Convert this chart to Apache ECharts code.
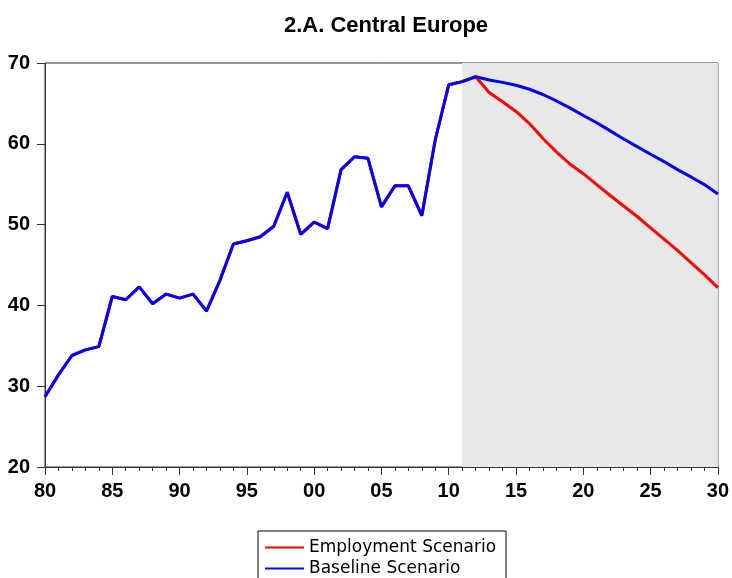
<!DOCTYPE html>
<html>
<head>
<meta charset="utf-8">
<script src="https://cdn.jsdelivr.net/npm/echarts@6/dist/echarts.min.js"></script>
<style>
html, body { margin: 0; padding: 0; background: #fff; }
#main { width: 732px; height: 578px; }
</style>
</head>
<body>
<div id="main"></div>
<script>
var chartDom = document.getElementById('main');
var myChart = echarts.init(chartDom);
var option;

// history, 1980 - 2012 (same in both scenarios)
var histYears = [];
for (var y = 1980; y <= 2012; y++) histYears.push(y);
var histValues = [28.7, 31.4, 33.8, 34.5, 34.9, 41.1, 40.7, 42.3, 40.2, 41.4,
    40.9, 41.4, 39.3, 43.1, 47.6, 48.0, 48.5, 49.8, 54.0, 48.8,
    50.3, 49.5, 56.8, 58.4, 58.2, 52.2, 54.8, 54.8, 51.1, 60.5,
    67.3, 67.7, 68.3];
// projections, 2013 - 2030
var projYears = [];
for (var y = 2013; y <= 2030; y++) projYears.push(y);
var baseline = [67.9, 67.6, 67.25, 66.75, 66.1, 65.3, 64.45, 63.5, 62.6, 61.6,
    60.6, 59.65, 58.7, 57.8, 56.8, 55.9, 54.95, 53.8];
var employment = [66.35, 65.2, 64.0, 62.5, 60.65, 59.0, 57.5, 56.3, 54.95, 53.6,
    52.3, 51.0, 49.6, 48.2, 46.8, 45.3, 43.8, 42.2];
var forecastStart = 2011;

function build(proj) {
    var out = histYears.map((yr, i) => [yr, histValues[i]]);
    projYears.forEach((yr, i) => out.push([yr, proj[i]]));
    return out;
}

var labelFont = { fontFamily: 'Liberation Sans, Arial, sans-serif', fontWeight: 'bold', fontSize: 20, color: '#000' };

option = {
    animation: false,
    title: {
        text: '2.A. Central Europe',
        left: 381,
        textAlign: 'center',
        top: 10,
        textStyle: { fontFamily: 'Liberation Sans, Arial, sans-serif', fontWeight: 'bold', fontSize: 22, color: '#000' }
    },
    grid: {
        left: 45, right: 14, top: 63, bottom: 111,
        show: true, borderColor: '#333', borderWidth: 1
    },
    legend: {
        orient: 'vertical',
        left: 258, top: 531,
        height: 80,
        padding: [8, 10, 12, 7],
        itemGap: 4,
        borderColor: '#000', borderWidth: 1,
        icon: 'rect', itemWidth: 39, itemHeight: 2,
        textStyle: { fontFamily: 'DejaVu Sans, sans-serif', fontSize: 17, color: '#000' },
        data: ['Employment Scenario', 'Baseline Scenario']
    },
    xAxis: {
        type: 'value',
        min: 1980, max: 2030, interval: 5,
        axisLine: { lineStyle: { color: '#333', width: 1 } },
        axisTick: { show: true, length: 8, lineStyle: { color: '#333' } },
        minorTick: { show: true, splitNumber: 5, length: 4, lineStyle: { color: '#333' } },
        splitLine: { show: false },
        axisLabel: Object.assign({ margin: 14, formatter: v => String(v % 100).padStart(2, '0') }, labelFont)
    },
    yAxis: {
        type: 'value',
        min: 20, max: 70, interval: 10,
        axisLine: { show: true, lineStyle: { color: '#333', width: 1 } },
        axisTick: { show: true, length: 8, lineStyle: { color: '#333' } },
        splitLine: { show: false },
        axisLabel: Object.assign({ margin: 15 }, labelFont)
    },
    series: [
        {
            name: 'Employment Scenario',
            type: 'line',
            symbol: 'none',
            data: build(employment),
            lineStyle: { color: '#ff0000', width: 3 },
            itemStyle: { color: '#ff0000' },
            markArea: {
                silent: true,
                itemStyle: { color: '#e8e8e8' },
                data: [[{ xAxis: forecastStart }, { xAxis: 2030 }]]
            },
            z: 2
        },
        {
            name: 'Baseline Scenario',
            type: 'line',
            symbol: 'none',
            data: build(baseline),
            lineStyle: { color: '#0000ff', width: 3 },
            itemStyle: { color: '#0000ff' },
            z: 3
        }
    ]
};

option && myChart.setOption(option);
</script>
</body>
</html>
